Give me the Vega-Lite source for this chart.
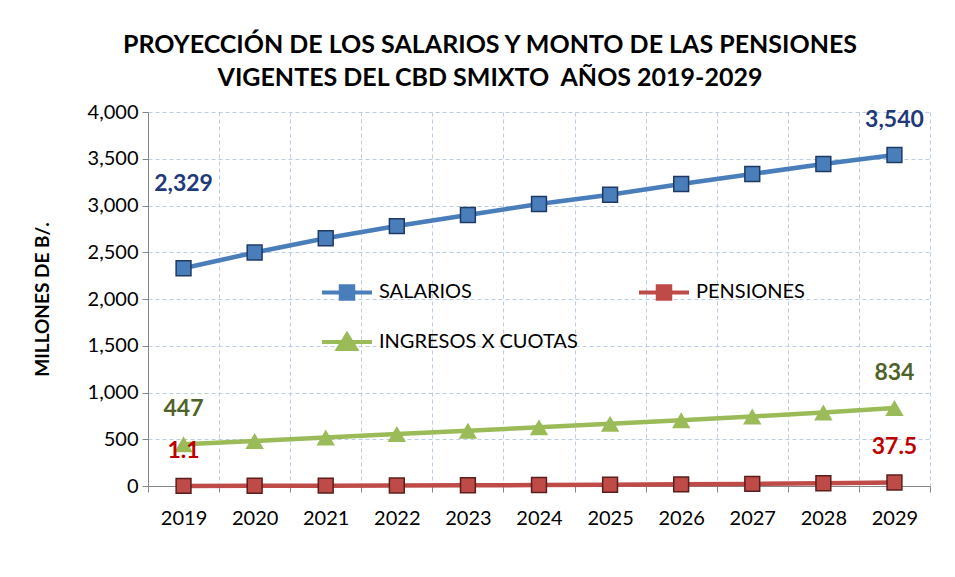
{
  "$schema": "https://vega.github.io/schema/vega-lite/v6.json",
  "autosize": "none",
  "width": 782,
  "height": 374,
  "padding": {"left": 148, "top": 112, "right": 25, "bottom": 91},
  "background": "white",
  "config": {"font": "Lato", "view": {"stroke": null}},
  "title": {
    "text": ["PROYECCIÓN DE LOS SALARIOS Y MONTO DE LAS PENSIONES", "VIGENTES DEL CBD SMIXTO\u00a0 AÑOS 2019-2029"],
    "font": "Lato", "fontSize": 25, "fontWeight": "bold", "color": "#000000",
    "anchor": "middle", "dx": -49, "offset": 11, "lineHeight": 33
  },
  "datasets": {
    "series": [
      {"year": "2019", "series": "SALARIOS", "value": 2329},
      {"year": "2020", "series": "SALARIOS", "value": 2497},
      {"year": "2021", "series": "SALARIOS", "value": 2650},
      {"year": "2022", "series": "SALARIOS", "value": 2780},
      {"year": "2023", "series": "SALARIOS", "value": 2898},
      {"year": "2024", "series": "SALARIOS", "value": 3016},
      {"year": "2025", "series": "SALARIOS", "value": 3115},
      {"year": "2026", "series": "SALARIOS", "value": 3230},
      {"year": "2027", "series": "SALARIOS", "value": 3337},
      {"year": "2028", "series": "SALARIOS", "value": 3444},
      {"year": "2029", "series": "SALARIOS", "value": 3540},
      {"year": "2019", "series": "PENSIONES", "value": 1.1},
      {"year": "2020", "series": "PENSIONES", "value": 2.3},
      {"year": "2021", "series": "PENSIONES", "value": 3.8},
      {"year": "2022", "series": "PENSIONES", "value": 5.6},
      {"year": "2023", "series": "PENSIONES", "value": 7.8},
      {"year": "2024", "series": "PENSIONES", "value": 10.4},
      {"year": "2025", "series": "PENSIONES", "value": 13.5},
      {"year": "2026", "series": "PENSIONES", "value": 17.4},
      {"year": "2027", "series": "PENSIONES", "value": 22.5},
      {"year": "2028", "series": "PENSIONES", "value": 29.2},
      {"year": "2029", "series": "PENSIONES", "value": 37.5},
      {"year": "2019", "series": "INGRESOS X CUOTAS", "value": 447},
      {"year": "2020", "series": "INGRESOS X CUOTAS", "value": 482},
      {"year": "2021", "series": "INGRESOS X CUOTAS", "value": 519},
      {"year": "2022", "series": "INGRESOS X CUOTAS", "value": 555},
      {"year": "2023", "series": "INGRESOS X CUOTAS", "value": 592},
      {"year": "2024", "series": "INGRESOS X CUOTAS", "value": 628},
      {"year": "2025", "series": "INGRESOS X CUOTAS", "value": 666},
      {"year": "2026", "series": "INGRESOS X CUOTAS", "value": 704},
      {"year": "2027", "series": "INGRESOS X CUOTAS", "value": 743},
      {"year": "2028", "series": "INGRESOS X CUOTAS", "value": 786},
      {"year": "2029", "series": "INGRESOS X CUOTAS", "value": 834}
    ],
    "labels": [
      {"year": "2019", "series": "SALARIOS", "value": 2329, "label": "2,329"},
      {"year": "2029", "series": "SALARIOS", "value": 3540, "label": "3,540"},
      {"year": "2019", "series": "PENSIONES", "value": 1.1, "label": "1.1"},
      {"year": "2029", "series": "PENSIONES", "value": 37.5, "label": "37.5"},
      {"year": "2019", "series": "INGRESOS X CUOTAS", "value": 447, "label": "447"},
      {"year": "2029", "series": "INGRESOS X CUOTAS", "value": 834, "label": "834"}
    ]
  },
  "data": {"name": "series"},
  "encoding": {
    "x": {
      "field": "year", "type": "ordinal",
      "scale": {"type": "band", "paddingInner": 0, "paddingOuter": 0},
      "axis": {
        "title": null, "labelAngle": 0, "labelFont": "Lato", "labelFontSize": 20, "labelColor": "#000000",
        "tickBand": "extent", "grid": true, "gridColor": "#B9CDE5", "gridDash": [4, 3], "gridWidth": 1,
        "domainColor": "#868686", "tickColor": "#868686", "tickSize": 6, "labelPadding": 16
      }
    },
    "y": {
      "field": "value", "type": "quantitative",
      "scale": {"domain": [0, 4000], "nice": false},
      "axis": {
        "title": "MILLONES DE B/.", "titleFont": "Lato", "titleFontSize": 19, "titleFontWeight": "bold", "titleColor": "#000000", "titlePadding": 35,
        "values": [0, 500, 1000, 1500, 2000, 2500, 3000, 3500, 4000], "format": ",.0f",
        "labelFont": "Lato", "labelFontSize": 20, "labelColor": "#000000", "labelPadding": 4,
        "grid": true, "gridColor": "#B9CDE5", "gridDash": [4, 3], "gridWidth": 1,
        "domainColor": "#868686", "tickColor": "#868686", "tickSize": 6
      }
    }
  },
  "layer": [
    {
      "mark": {"type": "line", "strokeWidth": 4.5},
      "encoding": {
        "color": {
          "field": "series", "type": "nominal",
          "scale": {"domain": ["SALARIOS", "PENSIONES", "INGRESOS X CUOTAS"], "range": ["#4A7EBB", "#BE4B48", "#9BBB59"]},
          "legend": {
            "orient": "none", "legendX": 172, "legendY": 153, "direction": "horizontal", "columns": 2,
            "title": null, "padding": 0, "labelFont": "Lato", "labelFontSize": 20, "labelColor": "#000000", "labelLimit": 500,
            "symbolSize": 2500, "labelOffset": 5, "columnPadding": 53, "rowPadding": 8,
            "encode": {
              "symbols": {
                "update": {
                  "shape": {"signal": "datum.value === 'INGRESOS X CUOTAS' ? 'M-1,0H1M0,-0.3L0.36,0.28H-0.36Z' : 'M-1,0H1M-0.25,-0.25H0.25V0.25H-0.25Z'"},
                  "fill": {"scale": "color", "field": "value"},
                  "stroke": {"scale": "color", "field": "value"},
                  "strokeWidth": {"value": 4},
                  "opacity": {"value": 1},
                  "fillOpacity": {"value": 1},
                  "strokeOpacity": {"value": 1}
                }
              }
            }
          }
        }
      }
    },
    {
      "transform": [{"filter": "datum.series !== 'INGRESOS X CUOTAS'"}],
      "mark": {"type": "point", "shape": "square", "filled": true, "size": 220, "opacity": 1, "strokeWidth": 1.5},
      "encoding": {
        "color": {"field": "series", "type": "nominal"},
        "stroke": {"field": "series", "type": "nominal", "scale": {"domain": ["SALARIOS", "PENSIONES"], "range": ["#1F3864", "#5A1E1C"]}, "legend": null}
      }
    },
    {
      "transform": [{"filter": "datum.series === 'INGRESOS X CUOTAS'"}],
      "mark": {"type": "point", "shape": "triangle-up", "filled": true, "size": 340, "opacity": 1, "strokeWidth": 0},
      "encoding": {
        "color": {"field": "series", "type": "nominal"}
      }
    },
    {
      "data": {"name": "labels"},
      "transform": [{"filter": "datum.label !== '2,329'"}],
      "mark": {"type": "text", "font": "Lato", "fontSize": 23, "fontWeight": "bold", "dy": -35, "baseline": "middle", "align": "center"},
      "encoding": {
        "text": {"field": "label"},
        "fill": {"field": "series", "type": "nominal", "scale": {"domain": ["SALARIOS", "PENSIONES", "INGRESOS X CUOTAS"], "range": ["#1F3A78", "#C00000", "#4F6228"]}, "legend": null}
      }
    },
    {
      "data": {"name": "labels"},
      "transform": [{"filter": "datum.label === '2,329'"}],
      "mark": {"type": "text", "font": "Lato", "fontSize": 23, "fontWeight": "bold", "dy": -84, "baseline": "middle", "align": "center"},
      "encoding": {
        "text": {"field": "label"},
        "fill": {"field": "series", "type": "nominal", "legend": null}
      }
    }
  ]
}
